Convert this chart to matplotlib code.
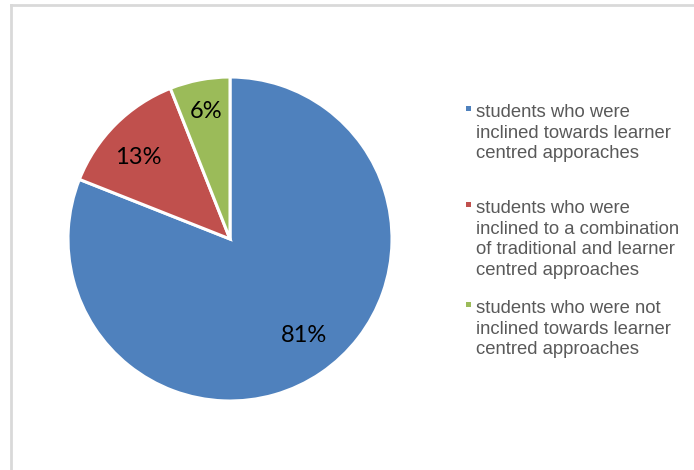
import numpy as np
import matplotlib.pyplot as plt
from matplotlib.patches import Rectangle

# Data
shares = [81, 13, 6]
labels = [
    "students who were\ninclined towards learner\ncentred apporaches",
    "students who were\ninclined to a combination\nof traditional and learner\ncentred approaches",
    "students who were not\ninclined towards learner\ncentred approaches",
]
colors = ["#4F81BD", "#C0504D", "#9BBB59"]

W, H = 694, 470
fig = plt.figure(figsize=(W / 100, H / 100), dpi=100)

# light grey chart frame (only top and left visible in the crop)
fig.add_artist(plt.Line2D([11 / W, 11 / W], [0, 1 - 5 / H], color="#d9d9d9", lw=2))
fig.add_artist(plt.Line2D([11 / W, 1], [1 - 5 / H, 1 - 5 / H], color="#d9d9d9", lw=2))

# pie: centre (230, 239) px, radius 162 px
cx, cy, r = 230, 239, 162 * 1.02
ax = fig.add_axes([(cx - r) / W, (H - cy - r) / H, 2 * r / W, 2 * r / H])
wedges, texts, autotexts = ax.pie(
    shares, colors=colors, startangle=90, counterclock=False,
    autopct="%d%%", pctdistance=0.78,
    wedgeprops=dict(edgecolor="white", linewidth=2.2),
    textprops=dict(fontsize=17, family=["Lato", "DejaVu Sans"], color="black"),
)
# Excel places the percentage labels at slightly different radii / angles
for w, t, d, da in zip(wedges, autotexts, [0.75, 0.76, 0.80], [3.5, 3.5, 0]):
    ang = np.deg2rad((w.theta1 + w.theta2) / 2 + da)
    t.set_position((d * np.cos(ang), d * np.sin(ang)))
ax.set_xlim(-1.02, 1.02)
ax.set_ylim(-1.02, 1.02)
ax.set_aspect("equal")
ax.axis("off")

# legend drawn by hand so the entries sit where they do in the original
first_baselines = [117, 213, 313]
line_step = 20.7
for lab, col, base in zip(labels, colors, first_baselines):
    for i, line in enumerate(lab.split("\n")):
        fig.text(476 / W, 1 - (base + i * line_step) / H, line, ha="left",
                 va="baseline", fontsize=13.3, family="Liberation Sans",
                 color="#595959")
    fig.add_artist(Rectangle((466 / W, 1 - (base - 6) / H), 5 / W, 5 / H,
                             facecolor=col, edgecolor="none",
                             transform=fig.transFigure))

fig.savefig("out.png", dpi=100)
